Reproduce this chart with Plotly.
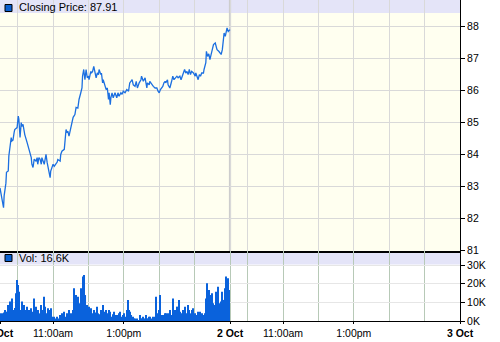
import plotly.graph_objects as go

# ---- data -------------------------------------------------------------
# minutes after the 9:30 open on 1 Oct
minutes = [0, 3, 5, 6, 7, 10, 11, 14, 15, 17, 19, 20, 22, 24, 25, 29, 31, 32, 34, 36,
           37, 39, 42, 46, 47, 51, 53, 54, 56, 58, 61, 63, 64, 66, 68, 70, 71, 75, 76, 78,
           80, 81, 83, 85, 86, 88, 90, 92, 95, 97, 98, 102, 103, 105, 109, 110, 112, 114, 115, 117,
           119, 122, 124, 127, 129, 132, 134, 137, 139, 140, 142, 144, 146, 148, 150, 151, 154, 155, 157, 159,
           161, 163, 165, 167, 168, 171, 172, 174, 175, 178, 180, 182, 184, 185, 187, 188, 190, 192, 195, 198,
           200, 202, 205, 207, 209, 212, 215, 218, 220, 222, 224, 226, 229, 231, 233, 236, 239, 240, 243, 246,
           249, 250, 253, 254, 257, 260, 263, 266, 268, 270, 272, 276, 278, 280, 281, 284, 285, 288, 291, 293,
           295, 297, 300, 302, 305, 307, 310, 313, 315, 317, 319, 321, 323, 325, 328, 331, 332, 335, 336, 338,
           340, 342, 345, 346, 349, 350, 352, 354, 356, 358, 359, 362, 365, 366, 368, 371, 373, 375, 377, 379,
           380, 382, 383, 385, 387, 389, 390]
price = [82.95, 82.65, 82.5, 82.33, 82.7, 83.1, 83.44, 83.48, 83.95, 84.3, 84.53, 84.42, 84.45, 84.69, 84.78, 84.84, 85.2, 85.1, 84.53, 85.0,
         84.88, 84.94, 84.62, 84.37, 84.31, 84.0, 83.9, 83.7, 83.59, 83.85, 83.79, 83.9, 83.69, 83.9, 83.85, 83.69, 83.9, 83.69, 83.85, 84.0,
         83.74, 83.63, 83.53, 83.27, 83.48, 83.59, 83.69, 83.63, 83.69, 83.76, 83.84, 83.79, 84.0, 84.1, 84.16, 84.42, 84.78, 84.68, 84.73, 84.57,
         84.73, 85.0, 85.16, 85.25, 85.47, 85.45, 85.72, 85.93, 86.08, 86.45, 86.66, 86.34, 86.66, 86.4, 86.45, 86.34, 86.6, 86.55, 86.6, 86.76,
         86.55, 86.4, 86.55, 86.5, 86.66, 86.5, 86.55, 86.24, 86.34, 86.13, 86.03, 86.08, 85.72, 85.93, 85.56, 85.77, 85.93, 85.77, 85.93, 85.77,
         85.93, 85.82, 85.93, 85.88, 85.98, 85.93, 86.03, 85.98, 86.24, 86.29, 86.34, 86.18, 86.13, 86.29, 86.08, 86.24, 86.34, 86.45, 86.29, 86.4,
         86.08, 86.24, 86.18, 86.29, 86.19, 86.13, 86.08, 86.08, 85.98, 85.93, 86.03, 86.13, 86.24, 86.29, 86.24, 86.34, 86.18, 86.08, 86.29, 86.45,
         86.34, 86.4, 86.45, 86.4, 86.45, 86.34, 86.5, 86.66, 86.55, 86.6, 86.5, 86.66, 86.5, 86.6, 86.55, 86.45, 86.55, 86.4, 86.34, 86.5,
         86.45, 86.55, 86.55, 86.66, 86.87, 87.23, 87.07, 87.15, 86.97, 87.13, 87.23, 87.44, 87.49, 87.39, 87.28, 87.23, 87.18, 87.13, 87.28, 87.65,
         87.8, 87.7, 87.8, 87.96, 87.85, 87.91, 87.91]
assert len(minutes) == len(price)

# volume in thousands, consecutive 2-minute buckets from the open
bucket_minutes = 2
vol_k = [4.1, 3.6, 4.1, 4.5, 5.9, 5.0, 8.6, 6.0, 10.4, 6.8,
         12.1, 5.9, 7.0, 14.8, 22.0, 19.3, 15.7, 5.9, 10.4, 5.0,
         8.6, 5.9, 7.7, 5.0, 5.9, 5.0, 6.8, 5.0, 12.1, 5.9,
         7.7, 5.0, 5.9, 4.1, 8.6, 5.9, 4.1, 13.0, 7.7, 4.1,
         6.8, 5.9, 4.1, 6.8, 2.3, 2.3, 1.4, 0.5, 2.3, 1.4,
         3.2, 2.3, 4.1, 1.4, 5.0, 2.3, 4.1, 3.2, 5.9, 2.3, 4.1, 5.9,
         17.5, 12.1, 13.9, 11.3, 13.0, 9.5, 17.5, 10.4, 23.8, 24.6, 13.9,
         8.6, 5.9, 7.7, 5.0, 6.8, 4.1, 5.9, 3.2, 4.5, 7.7, 4.1, 3.6, 5.9, 4.1, 8.6,
         5.0, 5.9, 3.2, 4.1, 5.9, 5.0, 2.3, 3.6, 5.0, 3.2, 2.3, 3.2, 4.1, 5.0,
         2.3, 1.4, 3.2, 4.1, 2.3, 5.9, 11.3, 5.9, 5.0, 3.2,
         2.3, 1.4, 1.4, 0.5, 1.4, 0.5, 3.2, 1.4, 1.4, 2.3,
         1.4, 3.2, 1.4, 1.4, 2.3, 2.3, 1.4, 2.3, 1.4, 2.3,
         13.0, 4.1, 5.9, 13.9, 3.2, 2.3, 3.2, 4.1, 4.1, 2.3,
         4.1, 3.2, 5.9, 3.2, 12.1, 4.1, 5.9, 3.2, 7.7, 11.3,
         5.0, 3.2, 4.1, 5.9, 7.7, 3.2, 4.1, 8.6, 5.9, 4.1,
         5.9, 6.8, 3.2, 4.1, 3.2, 5.0, 4.1, 5.0, 3.2, 4.1,
         3.2, 4.1, 12.1,
         20.2, 8.6, 16.6, 13.9, 14.8, 9.5, 8.6, 5.0, 15.7, 18.4,
         9.5, 5.0, 10.4, 15.7, 11.3, 17.5, 23.8, 14.8, 22.9, 16.6]

x_tick_vals = [0, 90, 210, 390, 480, 600, 780]
x_tick_text = ["<b>1 Oct</b>", "11:00am", "1:00pm", "<b>2 Oct</b>", "11:00am", "1:00pm", "<b>3 Oct</b>"]
x_minor_vals = [30, 150, 270, 330, 420, 540, 660, 720]
price_ticks = [81, 82, 83, 84, 85, 86, 87, 88]
vol_ticks = [0, 10, 20, 30]
vol_tick_text = ["0K", "10K", "20K", "30K"]

vol_x = [bucket_minutes * i + bucket_minutes / 2 for i in range(len(vol_k))]

# ---- layout geometry ---------------------------------------------------
W, H = 500, 342
ML, MR, MT, MB = 0, 40, 0, 21
PH = H - MT - MB            # plot height in px
PW = W - ML - MR
split_px = 251
split = 1 - split_px / PH

def py(p):                  # pixel from top -> paper y
    return 1 - p / PH

def px(p):
    return p / PW

FONT = "Liberation Sans, Arial, sans-serif"
LINE_BLUE = "#1c6fe0"
BAR_BLUE = "#0a62dc"
BAND = "#e4e4f8"
GRID = "#d9d9d9"
VGRID = "#b7c9b7"

fig = go.Figure()
fig.add_trace(go.Scatter(x=minutes, y=price, mode="lines",
                         line=dict(color=LINE_BLUE, width=1.3),
                         xaxis="x", yaxis="y", hoverinfo="skip"))
fig.add_trace(go.Bar(x=vol_x, y=vol_k, width=1.8,
                     marker=dict(color=BAR_BLUE, line=dict(width=0)),
                     xaxis="x2", yaxis="y2", hoverinfo="skip"))

shapes = [
    dict(type="rect", xref="x domain", yref="y domain", x0=0, x1=1, y0=0, y1=1,
         fillcolor="#fffff0", line=dict(width=0), layer="below"),
    dict(type="rect", xref="x domain", yref="paper", x0=0, x1=1, y0=py(13), y1=1,
         fillcolor=BAND, line=dict(width=0), layer="below"),
    dict(type="rect", xref="x domain", yref="paper", x0=0, x1=1, y0=py(264.5), y1=py(split_px),
         fillcolor=BAND, line=dict(width=0), layer="below"),
    dict(type="line", xref="x", yref="y domain", x0=390, x1=390, y0=0, y1=1,
         line=dict(color="#cdcdcd", width=2.2), layer="below"),
    dict(type="rect", xref="paper", yref="paper", x0=px(5), x1=px(12), y0=py(11.5), y1=py(4.5),
         fillcolor="#0a5fd0", line=dict(color="black", width=1), layer="above"),
    dict(type="rect", xref="paper", yref="paper", x0=px(5), x1=px(12), y0=py(261.5), y1=py(254.5),
         fillcolor="#0a5fd0", line=dict(color="black", width=1), layer="above"),
]

annotations = [
    dict(text=f"Closing Price: {price[-1]:.2f}", xref="paper", yref="paper",
         x=px(16.5), y=py(7), xanchor="left", yanchor="middle", showarrow=False,
         font=dict(family=FONT, size=11, color="black")),
    dict(text=f"Vol: {vol_k[-1]:.1f}K", xref="paper", yref="paper",
         x=px(16.5), y=py(258), xanchor="left", yanchor="middle", showarrow=False,
         font=dict(family=FONT, size=11, color="black")),
]

fig.update_layout(
    width=W, height=H,
    margin=dict(l=ML, r=MR, t=MT, b=MB, pad=0, autoexpand=False),
    paper_bgcolor="white", plot_bgcolor="white",
    showlegend=False,
    font=dict(family=FONT, size=10.5, color="black"),
    shapes=shapes, annotations=annotations,
    xaxis=dict(domain=[0, 1], range=[0, 780], anchor="y", automargin=False,
               tickvals=x_tick_vals, showticklabels=False, ticks="",
               showgrid=True, gridcolor=GRID, gridwidth=1,
               minor=dict(tickvals=x_minor_vals, showgrid=True, gridcolor=GRID, gridwidth=1, ticks=""),
               showline=True, linecolor="black", linewidth=2, zeroline=False),
    xaxis2=dict(domain=[0, 1], range=[0, 780], anchor="y2", matches="x", automargin=False,
                tickvals=x_tick_vals, ticktext=x_tick_text,
                ticks="outside", ticklen=2, tickcolor="black",
                ticklabeloverflow="allow",
                tickfont=dict(family=FONT, size=10.5, color="black"),
                showgrid=True, gridcolor=VGRID, gridwidth=1,
                minor=dict(tickvals=x_minor_vals, showgrid=True, gridcolor=VGRID, gridwidth=1, ticks=""),
                showline=True, linecolor="black", linewidth=1, zeroline=False),
    yaxis=dict(domain=[split, 1], range=[80.975, 88.836], anchor="x", side="right", automargin=False,
               tickvals=price_ticks, ticks="outside", ticklen=4, tickcolor="black",
               tickfont=dict(family=FONT, size=10.5, color="black"),
               showgrid=True, gridcolor=GRID, gridwidth=1,
               showline=True, mirror=True, linecolor="black", linewidth=1, zeroline=False),
    yaxis2=dict(domain=[0, split], range=[0, 37.5], anchor="x2", side="right", automargin=False,
                tickvals=vol_ticks, ticktext=vol_tick_text,
                ticks="outside", ticklen=4, tickcolor="black",
                tickfont=dict(family=FONT, size=10.5, color="black"),
                showgrid=True, gridcolor="#e6e6e6", gridwidth=1,
                showline=True, mirror=True, linecolor="black", linewidth=1, zeroline=False),
)

fig.write_html("out.html")
